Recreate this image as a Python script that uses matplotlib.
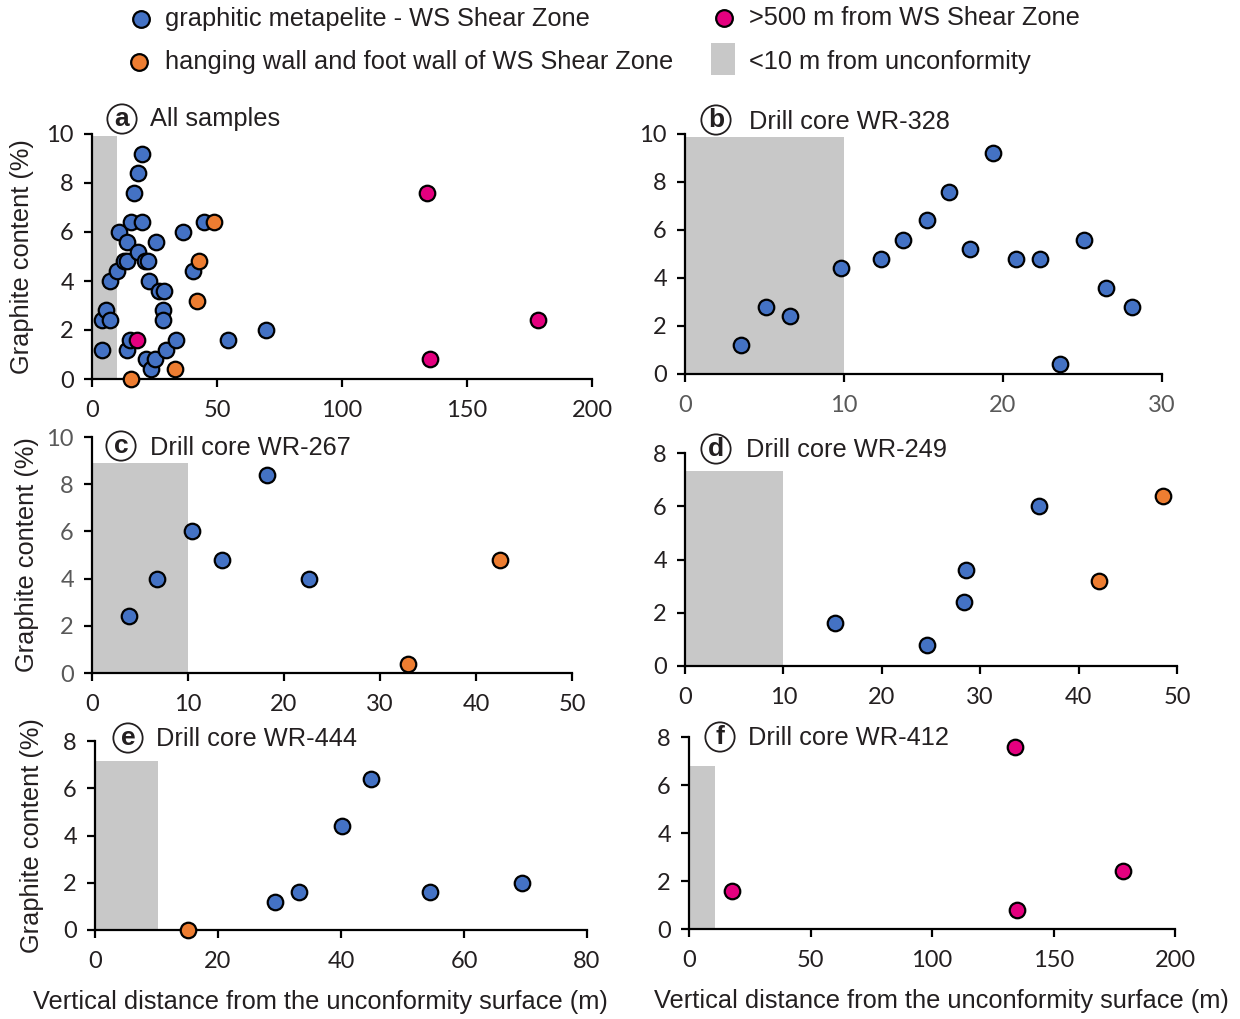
import matplotlib
matplotlib.use("Agg")
import matplotlib.pyplot as plt
from matplotlib.lines import Line2D
from matplotlib.patches import Rectangle

# ---------------- data ----------------
# panel a: all samples
a_blue_x = [4.0, 4.1, 5.4, 7.3, 7.1, 10.0, 10.6, 12.7, 13.9, 13.9, 14.1, 15.2, 15.5, 16.9, 18.4,
            19.8, 20.0, 18.2, 21.2, 22.5, 22.8, 21.7, 23.7, 25.2, 25.5, 26.6, 28.9, 28.5, 28.5,
            29.5, 33.4, 36.3, 40.4, 44.8, 54.5, 69.4]
a_blue_y = [1.2, 2.4, 2.8, 2.4, 4.0, 4.4, 6.0, 4.8, 4.8, 5.6, 1.2, 1.6, 6.4, 7.6, 8.4,
            9.2, 6.4, 5.2, 4.8, 4.8, 4.0, 0.8, 0.4, 0.8, 5.6, 3.6, 3.6, 2.8, 2.4,
            1.2, 1.6, 6.0, 4.4, 6.4, 1.6, 2.0]
a_orange_x = [15.4, 33.1, 42.1, 42.8, 48.9]
a_orange_y = [0.0, 0.4, 3.2, 4.8, 6.4]
a_mag_x = [18.0, 134.0, 135.2, 178.5]
a_mag_y = [1.6, 7.6, 0.8, 2.4]

# panel b: WR-328
b_blue_x = [3.5, 5.1, 6.6, 9.8, 12.3, 13.7, 15.2, 16.6, 19.4, 17.9, 20.8, 22.3, 23.6, 25.1, 26.5, 28.1]
b_blue_y = [1.2, 2.8, 2.4, 4.4, 4.8, 5.6, 6.4, 7.6, 9.2, 5.2, 4.8, 4.8, 0.4, 5.6, 3.6, 2.8]

# panel c: WR-267
c_blue_x = [3.9, 6.8, 10.4, 13.5, 18.2, 22.6]
c_blue_y = [2.4, 4.0, 6.0, 4.8, 8.4, 4.0]
c_orange_x = [32.9, 42.5]
c_orange_y = [0.4, 4.8]

# panel d: WR-249
d_blue_x = [15.2, 24.6, 28.4, 28.6, 36.0]
d_blue_y = [1.6, 0.8, 2.4, 3.6, 6.0]
d_orange_x = [42.1, 48.6]
d_orange_y = [3.2, 6.4]

# panel e: WR-444
e_blue_x = [29.2, 33.2, 40.2, 44.9, 54.4, 69.4]
e_blue_y = [1.2, 1.6, 4.4, 6.4, 1.6, 2.0]
e_orange_x = [15.2]
e_orange_y = [0.0]

# panel f: WR-412
f_mag_x = [17.7, 134.1, 135.1, 178.6]
f_mag_y = [1.6, 7.6, 0.8, 2.4]

letters = ["a", "b", "c", "d", "e", "f"]
titles = ["All samples", "Drill core WR-328", "Drill core WR-267",
          "Drill core WR-249", "Drill core WR-444", "Drill core WR-412"]
legend_labels = ["graphitic metapelite - WS Shear Zone",
                 "hanging wall and foot wall of WS Shear Zone",
                 ">500 m from WS Shear Zone",
                 "<10 m from unconformity"]
xlabel = "Vertical distance from the unconformity surface (m)"
ylabel = "Graphite content (%)"

# ---------------- style ----------------
BLUE = "#4472C4"
ORANGE = "#ED7D31"
MAG = "#E4007F"
GRAY = "#C8C8C8"
TXT = "#231F20"
TICKGRAY = "#595959"
TFONT = "Liberation Sans"
NFONT = "Lato"
MS = 125
FS = 18.3
TICKFS = 17

fig = plt.figure(figsize=(12.4, 10.19), dpi=100)

W, H = 1240, 1019
def fx(px):
    return px / W
def fy(py):
    return 1 - py / H
def ax_px(l, r, b, t):
    return fig.add_axes([l / W, 1 - b / H, (r - l) / W, (b - t) / H])

specs = [
    dict(box=(92, 592, 379, 134), xlim=(0, 200), xt=[0, 50, 100, 150, 200], ylim=(0, 10), yt=[0, 2, 4, 6, 8, 10],
         shade=(10, 9.9), series=[(a_blue_x, a_blue_y, BLUE), (a_orange_x, a_orange_y, ORANGE), (a_mag_x, a_mag_y, MAG)],
         xcol=TXT, ycol=TXT),
    dict(box=(685, 1162, 374, 134), xlim=(0, 30), xt=[0, 10, 20, 30], ylim=(0, 10), yt=[0, 2, 4, 6, 8, 10],
         shade=(10, 9.88), series=[(b_blue_x, b_blue_y, BLUE)], xcol=TICKGRAY, ycol=TXT),
    dict(box=(92, 572, 673, 437), xlim=(0, 50), xt=[0, 10, 20, 30, 40, 50], ylim=(0, 10), yt=[0, 2, 4, 6, 8, 10],
         shade=(10, 8.88), series=[(c_blue_x, c_blue_y, BLUE), (c_orange_x, c_orange_y, ORANGE)],
         xcol=TXT, ycol=TICKGRAY),
    dict(box=(685, 1177, 666, 453), xlim=(0, 50), xt=[0, 10, 20, 30, 40, 50], ylim=(0, 8), yt=[0, 2, 4, 6, 8],
         shade=(10, 7.32), series=[(d_blue_x, d_blue_y, BLUE), (d_orange_x, d_orange_y, ORANGE)],
         xcol=TXT, ycol=TXT),
    dict(box=(95, 587, 930, 741), xlim=(0, 80), xt=[0, 20, 40, 60, 80], ylim=(0, 8), yt=[0, 2, 4, 6, 8],
         shade=(10.3, 7.16), series=[(e_blue_x, e_blue_y, BLUE), (e_orange_x, e_orange_y, ORANGE)],
         xcol=TXT, ycol=TXT),
    dict(box=(689, 1175, 929, 737), xlim=(0, 200), xt=[0, 50, 100, 150, 200], ylim=(0, 8), yt=[0, 2, 4, 6, 8],
         shade=(10.5, 6.79), series=[(f_mag_x, f_mag_y, MAG)], xcol=TXT, ycol=TXT),
]

axes = []
for i, s in enumerate(specs):
    l, r, b, t = s["box"]
    ax = ax_px(l, r, b, t)
    ax.set_xlim(*s["xlim"])
    ax.set_ylim(*s["ylim"])
    ax.set_xticks(s["xt"])
    ax.set_yticks(s["yt"])
    sx, sy = s["shade"]
    ax.axvspan(0, sx, ymin=0, ymax=sy / s["ylim"][1], color=GRAY, lw=0, zorder=0)
    for xs, ys, c in s["series"]:
        ax.scatter(xs, ys, s=MS, c=c, edgecolors="black", linewidths=1.6, zorder=3, clip_on=False)
    for sp in ["top", "right"]:
        ax.spines[sp].set_visible(False)
    for sp in ["left", "bottom"]:
        ax.spines[sp].set_linewidth(1.6)
        ax.spines[sp].set_color("black")
    ax.tick_params(axis="both", direction="out", length=6, width=1.6, color="black")
    ax.tick_params(axis="x", pad=9)
    ax.tick_params(axis="y", pad=7)
    for lab in ax.get_xticklabels():
        lab.set_fontfamily(NFONT); lab.set_fontsize(TICKFS); lab.set_color(s["xcol"])
    for lab in ax.get_yticklabels():
        lab.set_fontfamily(NFONT); lab.set_fontsize(TICKFS); lab.set_color(s["ycol"])
    ax.patch.set_alpha(0)
    axes.append(ax)

# y labels (left column)
for ax, xp in zip([axes[0], axes[2], axes[4]], [22, 27, 32]):
    bb = ax.get_position()
    fig.text(fx(xp), (bb.y0 + bb.y1) / 2, ylabel, rotation=90, ha="center", va="center",
             fontsize=FS, family=TFONT, color=TXT)

# x labels (bottom row)
fig.text(fx(320), fy(1002), xlabel, ha="center", va="center", fontsize=FS, family=TFONT, color=TXT)
fig.text(fx(941), fy(1001), xlabel, ha="center", va="center", fontsize=FS, family=TFONT, color=TXT)

# panel letters and titles
title_pos = [((122, 119), (150, 119)), ((716, 120), (749, 122)), ((121, 446), (150, 448)),
             ((716, 449), (746, 450)), ((128, 738), (156, 739)), ((720, 737), (748, 738))]
for (cp, tp), let, ttl in zip(title_pos, letters, titles):
    fig.text(fx(cp[0]), fy(cp[1]), let, ha="center", va="center", fontsize=19, fontweight="bold",
             family=TFONT, color=TXT,
             bbox=dict(boxstyle="circle,pad=0.1", fc="white", ec=TXT, lw=1.3))
    fig.text(fx(tp[0]), fy(tp[1]), ttl, ha="left", va="center", fontsize=FS, family=TFONT, color=TXT)

# legend (manual)
leg_items = [
    ("o", BLUE, (141, 19), (165, 19), legend_labels[0]),
    ("o", ORANGE, (139, 62), (165, 62), legend_labels[1]),
    ("o", MAG, (724, 18), (749, 18), legend_labels[2]),
    ("s", GRAY, (723, 59), (749, 62), legend_labels[3]),
]
for mk, col, mp, tp, lab in leg_items:
    if mk == "o":
        fig.add_artist(Line2D([fx(mp[0])], [fy(mp[1])], transform=fig.transFigure, ls="none", marker="o",
                              ms=12, mfc=col, mec="black", mew=1.6))
    else:
        fig.add_artist(Rectangle((fx(711), fy(75)), fx(735) - fx(711), fy(43) - fy(75),
                                 transform=fig.transFigure, fc=col, ec="none"))
    fig.text(fx(tp[0]), fy(tp[1]), lab, ha="left", va="center", fontsize=FS, family=TFONT, color=TXT)

fig.savefig("out.png", dpi=100)
